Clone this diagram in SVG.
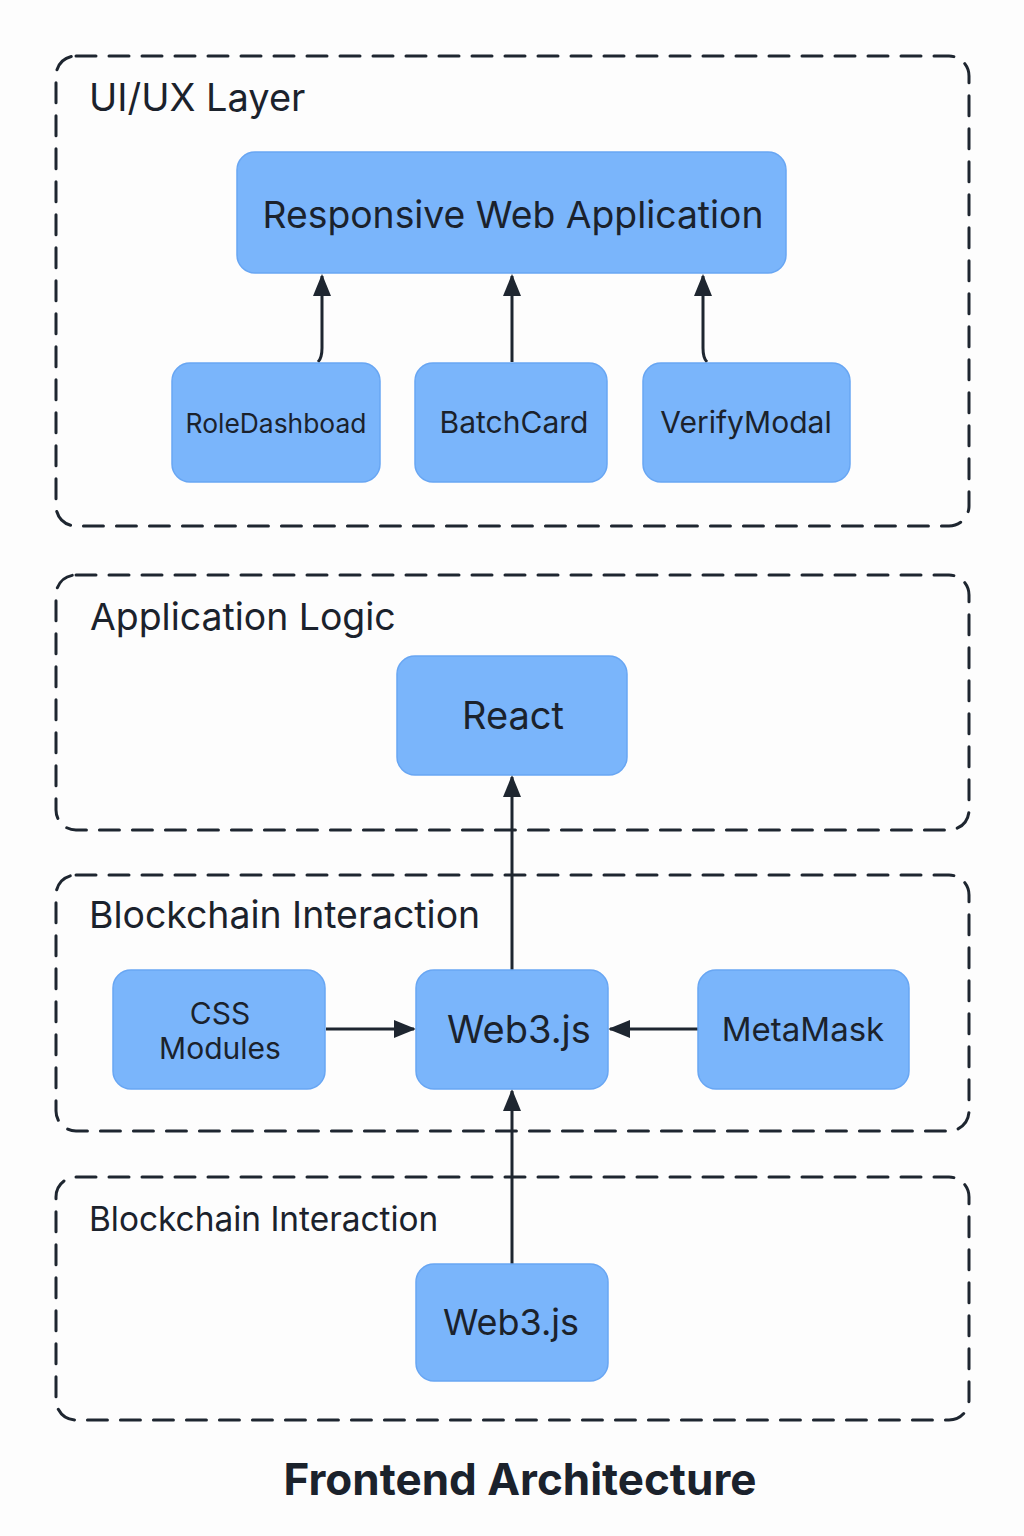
<svg xmlns="http://www.w3.org/2000/svg" width="1024" height="1536" viewBox="0 0 1024 1536">
<defs>
<style>
.grp{fill:none;stroke:#1e2630;stroke-width:3;stroke-dasharray:20 13;stroke-linecap:round}
.node{fill:#7ab5fb;stroke:#68a6f3;stroke-width:1.5}
.lbl{font-family:Inter,"Noto Sans",sans-serif;fill:#1b222c}
.nt{font-family:Inter,"Noto Sans",sans-serif;fill:#1b222c;text-anchor:middle}
.con{fill:none;stroke:#1e2630;stroke-width:3}
</style>
<marker id="ah" viewBox="0 0 22 22" refX="20" refY="11" markerWidth="22" markerHeight="22" markerUnits="userSpaceOnUse" orient="auto">
<path d="M0,2 L22,11 L0,20 Z" fill="#1e2630"/>
</marker>
</defs>
<rect width="1024" height="1536" fill="#fdfdfd"/>

<g id="layer-uiux">
<rect class="grp" x="56" y="56" width="913" height="470" rx="20"/>
<text class="lbl" x="89" y="111" font-size="38">UI/UX Layer</text>
</g>
<g id="layer-app">
<rect class="grp" x="56" y="575" width="913" height="255" rx="20"/>
<text class="lbl" x="90" y="630" font-size="37.4">Application Logic</text>
</g>
<g id="layer-bc1">
<rect class="grp" x="56" y="875" width="913" height="256" rx="20"/>
<text class="lbl" x="89" y="928" font-size="37.4">Blockchain Interaction</text>
</g>
<g id="layer-bc2">
<rect class="grp" x="56" y="1177" width="913" height="243" rx="20"/>
<text class="lbl" x="89" y="1231" font-size="33.4">Blockchain Interaction</text>
</g>

<g id="connectors">
<path class="con" d="M318,362 Q322,358 322,348 L322,276" marker-end="url(#ah)"/>
<path class="con" d="M512,362 L512,276" marker-end="url(#ah)"/>
<path class="con" d="M707,362 Q703,358 703,348 L703,276" marker-end="url(#ah)"/>
<path class="con" d="M512,970 L512,777" marker-end="url(#ah)"/>
<path class="con" d="M326,1029 L414,1029" marker-end="url(#ah)"/>
<path class="con" d="M698,1029 L610,1029" marker-end="url(#ah)"/>
<path class="con" d="M512,1264 L512,1091" marker-end="url(#ah)"/>
</g>

<g id="node-rwa">
<rect class="node" x="237" y="152" width="549" height="121" rx="18"/>
<text class="nt" x="513" y="228" font-size="37.3">Responsive Web Application</text>
</g>
<g id="node-roledashboad">
<rect class="node" x="172" y="363" width="208" height="119" rx="18"/>
<text class="nt" x="276" y="433" font-size="26.4">RoleDashboad</text>
</g>
<g id="node-batchcard">
<rect class="node" x="415" y="363" width="192" height="119" rx="18"/>
<text class="nt" x="514" y="433" font-size="30">BatchCard</text>
</g>
<g id="node-verifymodal">
<rect class="node" x="643" y="363" width="207" height="119" rx="18"/>
<text class="nt" x="746" y="433" font-size="30">VerifyModal</text>
</g>
<g id="node-react">
<rect class="node" x="397" y="656" width="230" height="119" rx="18"/>
<text class="nt" x="513" y="729" font-size="38">React</text>
</g>
<g id="node-css">
<rect class="node" x="113" y="970" width="212" height="119" rx="18"/>
<text class="nt" x="220" y="1024" font-size="30">CSS</text>
<text class="nt" x="220" y="1059" font-size="30">Modules</text>
</g>
<g id="node-web3-mid">
<rect class="node" x="416" y="970" width="192" height="119" rx="18"/>
<text class="nt" x="519" y="1043" font-size="38">Web3.js</text>
</g>
<g id="node-metamask">
<rect class="node" x="698" y="970" width="211" height="119" rx="18"/>
<text class="nt" x="803" y="1041" font-size="33">MetaMask</text>
</g>
<g id="node-web3-bottom">
<rect class="node" x="416" y="1264" width="192" height="117" rx="18"/>
<text class="nt" x="511" y="1335" font-size="36">Web3.js</text>
</g>

<text class="nt" x="520" y="1495" font-size="44" font-weight="bold">Frontend Architecture</text>
</svg>
